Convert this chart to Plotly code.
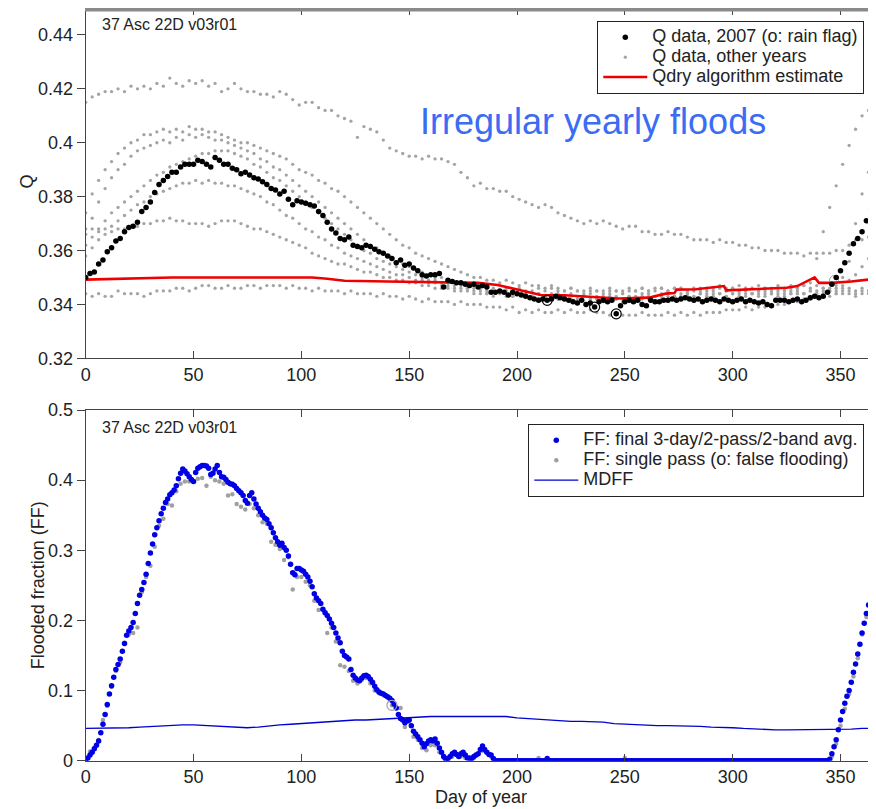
import plotly.graph_objects as go

# ---------------- DATA ----------------
X_TICKS = [0, 50, 100, 150, 200, 250, 300, 350]
Q_TICKS = [0.32, 0.34, 0.36, 0.38, 0.40, 0.42, 0.44]
Q_TICK_TEXT = ["0.32", "0.34", "0.36", "0.38", "0.4", "0.42", "0.44"]
FF_TICKS = [0, 0.1, 0.2, 0.3, 0.4, 0.5]
FF_TICK_TEXT = ["0", "0.1", "0.2", "0.3", "0.4", "0.5"]

# Q data 2007 (every 2nd day, days 0..364)
Q2007_DAYS = list(range(0, 365, 2))
Q2007 = [
    0.3500, 0.3515, 0.3520, 0.3550, 0.3565, 0.3595, 0.3610, 0.3635, 0.3645, 0.3670,
    0.3685, 0.3690, 0.3705, 0.3745, 0.3760, 0.3780, 0.3815, 0.3845, 0.3860, 0.3875,
    0.3890, 0.3890, 0.3910, 0.3920, 0.3920, 0.3920, 0.3935, 0.3930, 0.3920, 0.3910,
    0.3945, 0.3935, 0.3920, 0.3920, 0.3905, 0.3900, 0.3885, 0.3890, 0.3880, 0.3870,
    0.3865, 0.3855, 0.3845, 0.3830, 0.3825, 0.3810, 0.3820, 0.3790, 0.3770, 0.3785,
    0.3780, 0.3775, 0.3770, 0.3765, 0.3745, 0.3730, 0.3705, 0.3680, 0.3665, 0.3645,
    0.3640, 0.3650, 0.3620, 0.3615, 0.3610, 0.3620, 0.3615, 0.3605, 0.3595, 0.3590,
    0.3580, 0.3570, 0.3555, 0.3565, 0.3545, 0.3550, 0.3535, 0.3525, 0.3510, 0.3505,
    0.3510, 0.3510, 0.3515, 0.3465, 0.3490, 0.3485, 0.3480, 0.3480, 0.3475, 0.3470,
    0.3475, 0.3465, 0.3470, 0.3465, 0.3445, 0.3445, 0.3450, 0.3445, 0.3435, 0.3445,
    0.3440, 0.3435, 0.3430, 0.3425, 0.3420, 0.3415, 0.3420, 0.3415, 0.3420, 0.3430,
    0.3425, 0.3420, 0.3415, 0.3410, 0.3405, 0.3415, 0.3400, 0.3405, 0.3390, 0.3410,
    0.3415, 0.3410, 0.3415, 0.3365, 0.3395, 0.3410, 0.3415, 0.3410, 0.3415, 0.3400,
    0.3395, 0.3415, 0.3410, 0.3410, 0.3415, 0.3415, 0.3420, 0.3415, 0.3420, 0.3425,
    0.3420, 0.3415, 0.3420, 0.3410, 0.3415, 0.3420, 0.3415, 0.3410, 0.3420, 0.3415,
    0.3410, 0.3415, 0.3420, 0.3410, 0.3415, 0.3410, 0.3405, 0.3410, 0.3400, 0.3395,
    0.3415, 0.3415, 0.3415, 0.3410, 0.3415, 0.3420, 0.3410, 0.3415, 0.3425, 0.3430,
    0.3425, 0.3430, 0.3445, 0.3475, 0.3500, 0.3525, 0.3555, 0.3590, 0.3625, 0.3645,
    0.3670, 0.3710, 0.3750,
]
RAIN_DAYS = [214, 236, 246]
RAIN_Q = [0.3415, 0.3390, 0.3365]
RAIN_OTHER_DAYS = [347]
RAIN_OTHER_Q = [0.349]

# Q data, other years (every 3rd day, days 0..363)
Q_OTHER_DAYS = list(range(0, 364, 3))
Q_YEAR_A = [
    0.415, 0.417, 0.418, 0.419, 0.419, 0.420, 0.419, 0.421, 0.420, 0.421,
    0.420, 0.422, 0.421, 0.424, 0.422, 0.421, 0.423, 0.422, 0.423, 0.421,
    0.422, 0.419, 0.420, 0.422, 0.420, 0.419, 0.419, 0.418, 0.418, 0.417,
    0.419, 0.418, 0.416, 0.414, 0.415, 0.415, 0.413, 0.412, 0.412, 0.410,
    0.409, 0.408, 0.402, 0.406, 0.405, 0.404, 0.401, 0.398, 0.397, 0.396,
    0.395, 0.395, 0.394, 0.395, 0.394, 0.394, 0.393, 0.392, 0.389, 0.387,
    0.384, 0.385, 0.383, 0.383, 0.382, 0.382, 0.380, 0.379, 0.378, 0.377,
    0.376, 0.377, 0.376, 0.374, 0.373, 0.372, 0.371, 0.370, 0.371, 0.370,
    0.371, 0.370, 0.369, 0.368, 0.369, 0.369, 0.367, 0.367, 0.366, 0.366,
    0.367, 0.366, 0.366, 0.365, 0.364, 0.364, 0.364, 0.363, 0.364, 0.363,
    0.363, 0.362, 0.362, 0.361, 0.361, 0.360, 0.360, 0.360, 0.359, 0.359,
    0.359, 0.358, 0.359, 0.359, 0.359, 0.359, 0.360, 0.360, 0.362, 0.364,
    0.364, 0.365,
]
Q_YEAR_B = [
    0.374, 0.381, 0.386, 0.390, 0.393, 0.396, 0.398, 0.400, 0.401, 0.403,
    0.403, 0.404, 0.405, 0.404, 0.405, 0.404, 0.406, 0.405, 0.405, 0.404,
    0.404, 0.403, 0.402, 0.401, 0.400, 0.400, 0.399, 0.398, 0.397, 0.396,
    0.395, 0.394, 0.392, 0.390, 0.389, 0.388, 0.386, 0.385, 0.383, 0.382,
    0.380, 0.378, 0.376, 0.374, 0.372, 0.370, 0.368, 0.366, 0.364, 0.362,
    0.361, 0.359, 0.358, 0.357, 0.356, 0.355, 0.354, 0.353, 0.352, 0.351,
    0.350, 0.350, 0.349, 0.349, 0.348, 0.349, 0.348, 0.347, 0.348, 0.347,
    0.347, 0.346, 0.347, 0.346, 0.345, 0.346, 0.345, 0.345, 0.346, 0.345,
    0.345, 0.346, 0.345, 0.345, 0.346, 0.345, 0.346, 0.345, 0.346, 0.346,
    0.345, 0.346, 0.346, 0.345, 0.346, 0.346, 0.345, 0.346, 0.346, 0.345,
    0.346, 0.345, 0.346, 0.346, 0.345, 0.346, 0.345, 0.346, 0.346, 0.346,
    0.346, 0.347, 0.348, 0.357, 0.367, 0.376, 0.384, 0.392, 0.399, 0.405,
    0.410, 0.412,
]
Q_YEAR_C = [
    0.368, 0.372, 0.378, 0.383, 0.387, 0.390, 0.392, 0.395, 0.397, 0.398,
    0.399, 0.400, 0.401, 0.400, 0.402, 0.401, 0.403, 0.402, 0.403, 0.402,
    0.401, 0.401, 0.400, 0.399, 0.398, 0.397, 0.396, 0.394, 0.393, 0.391,
    0.390, 0.388, 0.386, 0.384, 0.382, 0.380, 0.378, 0.376, 0.374, 0.372,
    0.370, 0.368, 0.366, 0.364, 0.362, 0.361, 0.359, 0.358, 0.356, 0.355,
    0.354, 0.353, 0.352, 0.351, 0.350, 0.350, 0.349, 0.348, 0.348, 0.347,
    0.347, 0.346, 0.346, 0.345, 0.345, 0.345, 0.344, 0.344, 0.344, 0.343,
    0.344, 0.343, 0.343, 0.342, 0.343, 0.342, 0.342, 0.343, 0.342, 0.342,
    0.341, 0.342, 0.342, 0.341, 0.342, 0.342, 0.343, 0.342, 0.343, 0.343,
    0.342, 0.343, 0.343, 0.344, 0.343, 0.344, 0.343, 0.344, 0.344, 0.343,
    0.344, 0.344, 0.343, 0.344, 0.344, 0.343, 0.344, 0.344, 0.343, 0.344,
    0.344, 0.344, 0.345, 0.344, 0.345, 0.345, 0.346, 0.350, 0.356, 0.370,
    0.381, 0.389,
]
Q_YEAR_D = [
    0.362, 0.365, 0.368, 0.371, 0.374, 0.376, 0.378, 0.380, 0.382, 0.384,
    0.386, 0.388, 0.389, 0.391, 0.392, 0.393, 0.394, 0.395, 0.396, 0.396,
    0.397, 0.397, 0.397, 0.396, 0.395, 0.394, 0.392, 0.391, 0.389, 0.387,
    0.386, 0.384, 0.382, 0.380, 0.378, 0.376, 0.374, 0.372, 0.370, 0.368,
    0.366, 0.364, 0.362, 0.360, 0.359, 0.357, 0.356, 0.355, 0.354, 0.353,
    0.352, 0.351, 0.350, 0.349, 0.349, 0.348, 0.348, 0.347, 0.347, 0.346,
    0.346, 0.346, 0.345, 0.346, 0.345, 0.346, 0.345, 0.346, 0.345, 0.345,
    0.346, 0.345, 0.346, 0.345, 0.345, 0.346, 0.345, 0.344, 0.345, 0.345,
    0.344, 0.345, 0.345, 0.344, 0.345, 0.345, 0.346, 0.345, 0.345, 0.346,
    0.345, 0.346, 0.346, 0.345, 0.346, 0.345, 0.346, 0.346, 0.347, 0.346,
    0.346, 0.347, 0.346, 0.346, 0.347, 0.346, 0.346, 0.347, 0.346, 0.347,
    0.346, 0.347, 0.346, 0.347, 0.346, 0.346, 0.347, 0.347, 0.349, 0.351,
    0.354, 0.357,
]
Q_YEAR_E = [
    0.358, 0.361, 0.364, 0.366, 0.369, 0.371, 0.373, 0.375, 0.377, 0.378,
    0.380, 0.381, 0.382, 0.383, 0.384, 0.385, 0.385, 0.386, 0.385, 0.386,
    0.385, 0.385, 0.384, 0.384, 0.383, 0.382, 0.381, 0.380, 0.378, 0.377,
    0.375, 0.373, 0.372, 0.370, 0.368, 0.367, 0.365, 0.364, 0.362, 0.361,
    0.359, 0.358, 0.357, 0.356, 0.355, 0.354, 0.353, 0.352, 0.351, 0.351,
    0.350, 0.349, 0.349, 0.348, 0.348, 0.347, 0.347, 0.346, 0.346, 0.346,
    0.345, 0.345, 0.344, 0.345, 0.344, 0.344, 0.343, 0.344, 0.344, 0.343,
    0.344, 0.343, 0.344, 0.344, 0.343, 0.344, 0.343, 0.343, 0.344, 0.343,
    0.343, 0.344, 0.343, 0.344, 0.343, 0.343, 0.344, 0.344, 0.343, 0.344,
    0.344, 0.343, 0.344, 0.344, 0.345, 0.344, 0.344, 0.345, 0.344, 0.345,
    0.344, 0.345, 0.345, 0.344, 0.345, 0.345, 0.344, 0.345, 0.345, 0.345,
    0.345, 0.344, 0.345, 0.345, 0.346, 0.345, 0.345, 0.346, 0.346, 0.345,
    0.346, 0.345,
]
Q_YEAR_F = [
    0.366, 0.368, 0.367, 0.368, 0.367, 0.368, 0.368, 0.369, 0.369, 0.370,
    0.370, 0.371, 0.371, 0.372, 0.371, 0.371, 0.370, 0.370, 0.370, 0.369,
    0.370, 0.371, 0.371, 0.371, 0.370, 0.369, 0.368, 0.368, 0.367, 0.366,
    0.365, 0.364, 0.363, 0.362, 0.361, 0.359, 0.358, 0.357, 0.356, 0.355,
    0.355, 0.354, 0.353, 0.352, 0.352, 0.351, 0.350, 0.350, 0.349, 0.349,
    0.348, 0.348, 0.347, 0.347, 0.346, 0.346, 0.346, 0.345, 0.345, 0.345,
    0.344, 0.344, 0.344, 0.343, 0.344, 0.343, 0.343, 0.344, 0.343, 0.343,
    0.342, 0.343, 0.343, 0.342, 0.343, 0.342, 0.342, 0.343, 0.342, 0.342,
    0.342, 0.343, 0.342, 0.342, 0.343, 0.342, 0.342, 0.343, 0.343, 0.342,
    0.343, 0.343, 0.342, 0.343, 0.343, 0.344, 0.343, 0.343, 0.344, 0.343,
    0.344, 0.343, 0.344, 0.344, 0.343, 0.344, 0.344, 0.343, 0.344, 0.344,
    0.344, 0.344, 0.343, 0.344, 0.344, 0.345, 0.344, 0.345, 0.345, 0.344,
    0.345, 0.345,
]
Q_YEAR_G = [
    0.344, 0.343, 0.344, 0.343, 0.343, 0.345, 0.344, 0.344, 0.344, 0.343,
    0.344, 0.345, 0.345, 0.345, 0.346, 0.346, 0.345, 0.346, 0.347, 0.347,
    0.346, 0.346, 0.347, 0.346, 0.346, 0.347, 0.347, 0.346, 0.347, 0.347,
    0.347, 0.346, 0.347, 0.346, 0.346, 0.345, 0.346, 0.345, 0.345, 0.345,
    0.344, 0.345, 0.344, 0.344, 0.344, 0.343, 0.344, 0.343, 0.343, 0.342,
    0.343, 0.342, 0.341, 0.342, 0.341, 0.341, 0.341, 0.340, 0.341, 0.340,
    0.340, 0.340, 0.339, 0.339, 0.339, 0.338, 0.339, 0.337, 0.338, 0.337,
    0.338, 0.337, 0.337, 0.338, 0.337, 0.338, 0.337, 0.337, 0.338, 0.337,
    0.337, 0.336, 0.337, 0.336, 0.336, 0.336, 0.337, 0.336, 0.336, 0.336,
    0.337, 0.336, 0.337, 0.336, 0.337, 0.336, 0.337, 0.337, 0.337, 0.338,
    0.338, 0.338, 0.339, 0.338, 0.339, 0.339, 0.340, 0.340, 0.340, 0.341,
    0.341, 0.342, 0.342, 0.343, 0.343, 0.343, 0.344, 0.344, 0.344, 0.343,
    0.344, 0.344,
]
Q_OTHER = [Q_YEAR_A, Q_YEAR_B, Q_YEAR_C, Q_YEAR_D, Q_YEAR_E, Q_YEAR_F, Q_YEAR_G]

# Qdry algorithm estimate
QDRY_DAYS = [0, 20, 40, 60, 80, 105, 112, 120, 140, 160, 182, 191, 196, 205, 211, 222,
             233, 240, 247, 261, 269, 273, 274, 283, 294, 296, 297, 306, 325, 330, 336,
             338, 340, 346, 355, 366]
QDRY = [0.3492, 0.3496, 0.3500, 0.3500, 0.3500, 0.3500, 0.3495, 0.3488, 0.3485, 0.3483,
        0.3480, 0.3472, 0.3463, 0.3447, 0.3435, 0.3434, 0.3428, 0.3425, 0.3422, 0.3425,
        0.3440, 0.3442, 0.3455, 0.3456, 0.3465, 0.3468, 0.3452, 0.3455, 0.3462, 0.3468,
        0.3490, 0.3500, 0.3480, 0.3480, 0.3485, 0.3495]

# FF final 3-day/2-pass/2-band average (daily, days 0..365)
FF_FINAL = [
    0.000, 0.004, 0.008, 0.012, 0.017, 0.022, 0.028, 0.040, 0.052, 0.066,   # 0
    0.080, 0.095, 0.107, 0.119, 0.130, 0.137, 0.145, 0.156, 0.167, 0.179,   # 10
    0.185, 0.190, 0.197, 0.210, 0.224, 0.236, 0.244, 0.254, 0.266, 0.281,   # 20
    0.296, 0.309, 0.322, 0.332, 0.342, 0.352, 0.360, 0.368, 0.373, 0.379,   # 30
    0.382, 0.386, 0.392, 0.402, 0.410, 0.416, 0.413, 0.409, 0.405, 0.401,   # 40
    0.398, 0.411, 0.417, 0.419, 0.421, 0.421, 0.420, 0.417, 0.408, 0.410,   # 50
    0.416, 0.421, 0.411, 0.405, 0.404, 0.401, 0.397, 0.395, 0.394, 0.392,   # 60
    0.388, 0.385, 0.382, 0.378, 0.371, 0.367, 0.378, 0.382, 0.373, 0.366,   # 70
    0.360, 0.355, 0.350, 0.346, 0.344, 0.338, 0.332, 0.325, 0.318, 0.312,   # 80
    0.307, 0.310, 0.304, 0.300, 0.292, 0.280, 0.268, 0.265, 0.274, 0.274,   # 90
    0.272, 0.270, 0.266, 0.262, 0.256, 0.248, 0.238, 0.232, 0.228, 0.224,   # 100
    0.216, 0.211, 0.207, 0.202, 0.196, 0.190, 0.182, 0.175, 0.168, 0.156,   # 110
    0.150, 0.148, 0.145, 0.130, 0.122, 0.118, 0.115, 0.114, 0.118, 0.121,   # 120
    0.122, 0.120, 0.116, 0.112, 0.106, 0.101, 0.098, 0.096, 0.095, 0.093,   # 130
    0.091, 0.089, 0.086, 0.081, 0.075, 0.066, 0.060, 0.058, 0.054, 0.057,   # 140
    0.058, 0.050, 0.042, 0.038, 0.034, 0.030, 0.025, 0.020, 0.024, 0.028,   # 150
    0.030, 0.028, 0.031, 0.025, 0.018, 0.012, 0.006, 0.002, 0.003, 0.006,   # 160
    0.010, 0.012, 0.009, 0.006, 0.010, 0.012, 0.008, 0.004, 0.004, 0.003,   # 170
    0.006, 0.008, 0.010, 0.016, 0.021, 0.016, 0.012, 0.009, 0.008, 0.003,   # 180
    0.000, 0.000, 0.000, 0.000, 0.000, 0.000, 0.000, 0.000, 0.000, 0.000,   # 190
    0.000, 0.000, 0.000, 0.000, 0.000, 0.000, 0.000, 0.000, 0.000, 0.000,   # 200
    0.000, 0.000, 0.000, 0.000, 0.003, 0.000, 0.000, 0.000, 0.000, 0.000,   # 210
    0.000, 0.000, 0.000, 0.000, 0.000, 0.000, 0.000, 0.000, 0.000, 0.000,   # 220
    0.000, 0.000, 0.000, 0.000, 0.000, 0.000, 0.000, 0.000, 0.000, 0.000,   # 230
    0.000, 0.000, 0.000, 0.000, 0.000, 0.000, 0.000, 0.000, 0.000, 0.000,   # 240
    0.000, 0.000, 0.000, 0.000, 0.000, 0.000, 0.000, 0.000, 0.000, 0.000,   # 250
    0.000, 0.000, 0.000, 0.000, 0.000, 0.000, 0.000, 0.000, 0.000, 0.000,   # 260
    0.000, 0.000, 0.000, 0.000, 0.000, 0.000, 0.000, 0.000, 0.000, 0.000,   # 270
    0.000, 0.000, 0.000, 0.000, 0.000, 0.000, 0.000, 0.000, 0.000, 0.000,   # 280
    0.000, 0.000, 0.000, 0.000, 0.000, 0.000, 0.000, 0.000, 0.000, 0.000,   # 290
    0.000, 0.000, 0.000, 0.000, 0.000, 0.000, 0.000, 0.000, 0.000, 0.000,   # 300
    0.000, 0.000, 0.000, 0.000, 0.000, 0.000, 0.000, 0.000, 0.000, 0.000,   # 310
    0.000, 0.000, 0.000, 0.000, 0.000, 0.000, 0.000, 0.000, 0.000, 0.000,   # 320
    0.000, 0.000, 0.000, 0.000, 0.000, 0.000, 0.000, 0.000, 0.000, 0.000,   # 330
    0.000, 0.000, 0.000, 0.000, 0.000, 0.002, 0.010, 0.020, 0.030, 0.044,   # 340
    0.058, 0.070, 0.082, 0.092, 0.100, 0.112, 0.126, 0.138, 0.152, 0.166,   # 350
    0.182, 0.196, 0.210, 0.222, 0.234, 0.246,                               # 360
]
FF_FINAL_DAYS = list(range(len(FF_FINAL)))

# FF single pass
FF_SINGLE_DAYS = list(range(0, 191, 2)) + [210, 250] + list(range(344, 365, 2))
FF_SINGLE = [
    0.002, 0.013, 0.018, 0.030, 0.058, 0.078, 0.105, 0.128, 0.140, 0.168,
    0.180, 0.182, 0.190, 0.240, 0.262, 0.278, 0.305, 0.335, 0.345, 0.366,
    0.364, 0.384, 0.395, 0.398, 0.398, 0.398, 0.402, 0.403, 0.392, 0.405,
    0.400, 0.398, 0.395, 0.378, 0.380, 0.366, 0.362, 0.358, 0.366, 0.360,
    0.350, 0.340, 0.338, 0.312, 0.308, 0.302, 0.286, 0.290, 0.244, 0.262,
    0.262, 0.255, 0.250, 0.228, 0.215, 0.216, 0.182, 0.190, 0.170, 0.136,
    0.134, 0.128, 0.114, 0.110, 0.115, 0.118, 0.110, 0.100, 0.096, 0.094,
    0.090, 0.079, 0.076, 0.075, 0.048, 0.055, 0.034, 0.030, 0.018, 0.015,
    0.022, 0.022, 0.012, 0.004, 0.004, 0.006, 0.008, 0.006, 0.004, 0.002,
    0.004, 0.010, 0.014, 0.012, 0.006, 0.000,
    0.004, 0.004,
    0.000, 0.006, 0.024, 0.050, 0.074, 0.095, 0.120, 0.146, 0.180, 0.205, 0.230,
]
FALSE_FLOOD_DAYS = [142]
FALSE_FLOOD_FF = [0.079]

# MDFF (every 5th day)
MDFF_DAYS = list(range(0, 366, 5))
MDFF = [
    0.046, 0.046, 0.046, 0.047, 0.047, 0.048, 0.049, 0.049, 0.050, 0.051,
    0.051, 0.050, 0.050, 0.049, 0.048, 0.047, 0.048, 0.050, 0.051, 0.052,
    0.053, 0.054, 0.056, 0.057, 0.057, 0.058, 0.058, 0.059, 0.059, 0.060,
    0.061, 0.062, 0.063, 0.063, 0.063, 0.063, 0.063, 0.063, 0.064, 0.063,
    0.061, 0.060, 0.058, 0.057, 0.056, 0.056, 0.056, 0.056, 0.055, 0.053,
    0.052, 0.051, 0.050, 0.050, 0.050, 0.050, 0.050, 0.049, 0.048, 0.048,
    0.047, 0.046, 0.045, 0.045, 0.044, 0.044, 0.044, 0.044, 0.044, 0.044,
    0.045, 0.045, 0.046, 0.046,
]

# ---------------- FIGURE ----------------
PAGE_W, PAGE_H = 876, 809
OFF = 8                      # default body margin of the html page
W, H = PAGE_W - OFF, PAGE_H - OFF
FONT = "Liberation Sans, Arial, sans-serif"
TXT = "#222222"
AXC = "#444444"

def fx(p):
    return (p - OFF) / W

def fy(p):
    return 1 - (p - OFF) / H

def big(s, size=18):
    return '<span style="font-size:%dpx">%s</span>' % (size, s)

fig = go.Figure()

for i, g in enumerate(Q_OTHER):
    fig.add_trace(go.Scatter(
        x=Q_OTHER_DAYS, y=g, mode="markers", name=big("Q data, other years"),
        marker=dict(size=3.3, color="#a4a4a4"), showlegend=(i == 0),
        legend="legend", legendrank=2, xaxis="x", yaxis="y", hoverinfo="skip"))

fig.add_trace(go.Scatter(
    x=RAIN_OTHER_DAYS, y=RAIN_OTHER_Q, mode="markers", showlegend=False,
    marker=dict(size=9, color="rgba(0,0,0,0)", line=dict(color="#a4a4a4", width=1)),
    xaxis="x", yaxis="y", hoverinfo="skip"))

fig.add_trace(go.Scatter(
    x=QDRY_DAYS, y=QDRY, mode="lines", name=big("Qdry algorithm estimate"),
    line=dict(color="#ee0000", width=2.6), legend="legend", legendrank=3,
    xaxis="x", yaxis="y", hoverinfo="skip"))

fig.add_trace(go.Scatter(
    x=Q2007_DAYS, y=Q2007, mode="markers", name=big("Q data, 2007 (o: rain flag)"),
    marker=dict(size=5.5, color="#000000"), legend="legend", legendrank=1,
    xaxis="x", yaxis="y", hoverinfo="skip"))

fig.add_trace(go.Scatter(
    x=RAIN_DAYS, y=RAIN_Q, mode="markers", showlegend=False,
    marker=dict(size=10, color="rgba(0,0,0,0)", line=dict(color="#000000", width=1.2)),
    xaxis="x", yaxis="y", hoverinfo="skip"))

# bottom panel
fig.add_trace(go.Scatter(
    x=FF_SINGLE_DAYS, y=FF_SINGLE, mode="markers",
    name=big("FF: single pass (o: false flooding)"),
    marker=dict(size=4.5, color="#a0a0a0"), legend="legend2", legendrank=2,
    xaxis="x2", yaxis="y2", hoverinfo="skip"))

fig.add_trace(go.Scatter(
    x=FF_FINAL_DAYS, y=FF_FINAL, mode="markers",
    name=big("FF: final 3-day/2-pass/2-band avg."),
    marker=dict(size=5.5, color="#0000e6"), legend="legend2", legendrank=1,
    xaxis="x2", yaxis="y2", hoverinfo="skip"))

fig.add_trace(go.Scatter(
    x=FALSE_FLOOD_DAYS, y=FALSE_FLOOD_FF, mode="markers", showlegend=False,
    marker=dict(size=10, color="rgba(0,0,0,0)", line=dict(color="#a0a0a0", width=1.2)),
    xaxis="x2", yaxis="y2", hoverinfo="skip"))

fig.add_trace(go.Scatter(
    x=MDFF_DAYS, y=MDFF, mode="lines", name=big("MDFF"),
    line=dict(color="#0000d0", width=1.3), legend="legend2", legendrank=3,
    xaxis="x2", yaxis="y2", hoverinfo="skip"))

XDOM = [fx(85.7), fx(875)]
TOP_DOM = [fy(358.3), 1.0]
BOT_DOM = [fy(760.7), fy(410.0)]
tickfont = dict(family=FONT, size=18, color=TXT)

def xaxis_cfg(anchor):
    return dict(domain=XDOM, range=[0, 366], anchor=anchor, tickmode="array",
                tickvals=X_TICKS, ticktext=[str(t) for t in X_TICKS], ticks="inside",
                ticklen=7, tickcolor=AXC, tickwidth=1.2, mirror="ticks", showline=True,
                linecolor=AXC, linewidth=1.3, showgrid=False, zeroline=False,
                tickfont=tickfont, automargin=False)

def yaxis_cfg(dom, rng, vals, text, anchor):
    return dict(domain=dom, range=rng, anchor=anchor, tickmode="array", tickvals=vals,
                ticktext=text, ticks="outside", ticklen=8, tickcolor=AXC, tickwidth=1.2,
                showline=True, linecolor=AXC, linewidth=1.3, showgrid=False,
                zeroline=False, tickfont=tickfont, automargin=False)

def yright_cfg(over, rng, vals, anchor):
    return dict(overlaying=over, side="right", anchor=anchor, range=rng, tickmode="array",
                tickvals=vals, ticks="inside", ticklen=8, tickcolor=AXC, tickwidth=1.2,
                showticklabels=False, showline=True, linecolor=AXC, linewidth=1.3,
                showgrid=False, zeroline=False, automargin=False)

legend_common = dict(
    xanchor="right", yanchor="top", bgcolor="white", bordercolor="#222222",
    borderwidth=1.3, font=dict(family=FONT, size=13, color=TXT),
    tracegroupgap=0, itemsizing="trace", itemwidth=44)

fig.update_layout(
    width=W, height=H, margin=dict(l=0, r=0, t=0, b=0, autoexpand=False),
    paper_bgcolor="white", plot_bgcolor="white",
    font=dict(family=FONT, size=18, color=TXT),
    xaxis=xaxis_cfg("y"), yaxis=yaxis_cfg(TOP_DOM, [0.32, 0.45], Q_TICKS, Q_TICK_TEXT, "x"),
    xaxis2=xaxis_cfg("y2"), yaxis2=yaxis_cfg(BOT_DOM, [0, 0.5], FF_TICKS, FF_TICK_TEXT, "x2"),
    yaxis3=yright_cfg("y", [0.32, 0.45], Q_TICKS, "x"),
    yaxis4=yright_cfg("y2", [0, 0.5], FF_TICKS, "x2"),
    legend=dict(x=fx(864), y=fy(21), **legend_common),
    legend2=dict(x=fx(864), y=fy(424), **legend_common),
    showlegend=True,
)

# thick top border of the upper panel
fig.add_shape(type="line", xref="paper", yref="paper", x0=fx(85), x1=1.0,
              y0=fy(9.5), y1=fy(9.5), line=dict(color="#8a8a8a", width=4))

ann = [
    dict(text="Q", x=fx(26.7), y=fy(181.7), textangle=-90, font=dict(size=18)),
    dict(text="Flooded fraction (FF)", x=fx(37.5), y=fy(585.8), textangle=-90,
         font=dict(size=18)),
    dict(text="Day of year", x=fx(480.8), y=fy(797), font=dict(size=18)),
    dict(text="37 Asc 22D v03r01", x=fx(100), y=fy(24.2), xanchor="left",
         font=dict(size=16)),
    dict(text="37 Asc 22D v03r01", x=fx(100), y=fy(427.5), xanchor="left",
         font=dict(size=16)),
    dict(text="Irregular yearly floods", x=fx(592.5), y=fy(121),
         font=dict(size=36, color="#3b6cf4")),
]
for a in ann:
    base = dict(xref="paper", yref="paper", showarrow=False, xanchor="center",
                yanchor="middle")
    base.update(a)
    f = dict(family=FONT, color=TXT)
    f.update(a.get("font", {}))
    base["font"] = f
    fig.add_annotation(**base)

fig.write_html("out.html")
